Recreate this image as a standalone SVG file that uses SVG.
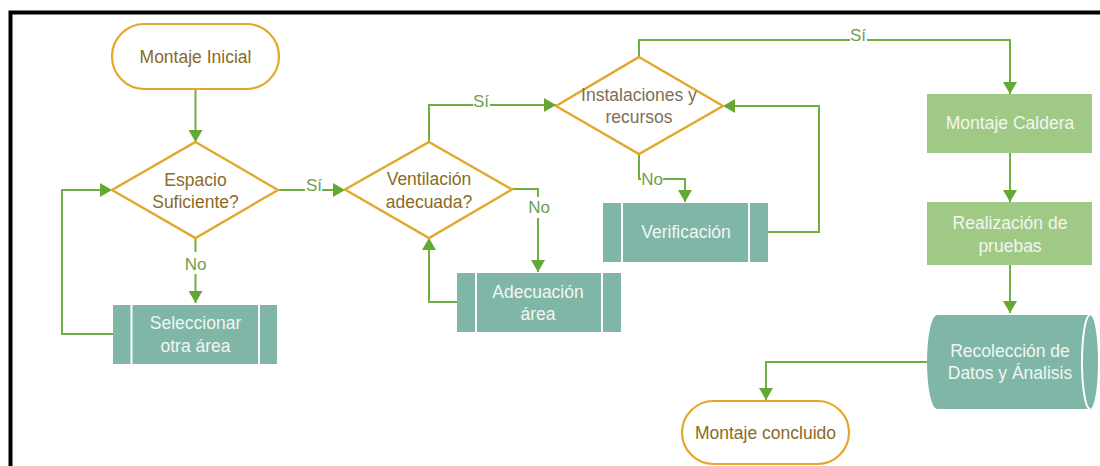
<svg xmlns="http://www.w3.org/2000/svg" width="1100" height="466" viewBox="0 0 1100 466">
  <style>
    .term { fill: #ffffff; stroke: #E2A72B; stroke-width: 2.2; }
    .dec { fill: #ffffff; stroke: #E2A72B; stroke-width: 2.4; }
    .proc { fill: #7FB6A8; }
    .div { stroke: #ffffff; stroke-width: 2; }
    .box { fill: #A1C986; }
    .t { font-family: "Liberation Sans", Arial, sans-serif; font-size: 17.5px; text-anchor: middle; dominant-baseline: central; }
    .dark { fill: #8A6A25; }
    .light { fill: #F2F6F2; }
    .lbl { font-family: "Liberation Sans", Arial, sans-serif; font-size: 17px; text-anchor: middle; dominant-baseline: central; fill: #6E9E52; }
    .conn { fill: none; stroke: #6EB03E; stroke-width: 2; }
    .bg { fill: #ffffff; }
  </style>
  <defs>
    <marker id="arrow" viewBox="0 0 12 14" refX="12" refY="7" markerWidth="12" markerHeight="14" markerUnits="userSpaceOnUse" orient="auto">
      <path d="M0,0 L12,7 L0,14 Z" fill="#62A832"/>
    </marker>
  </defs>

  <rect width="1100" height="466" fill="#ffffff"/>
  <!-- frame -->
  <path d="M10.5,466 V12.5 H1100" fill="none" stroke="#000000" stroke-width="4"/>

  <!-- connectors -->
  <g id="connectors">
    <path class="conn" d="M195.5,89 V142" marker-end="url(#arrow)"/>
    <path class="conn" d="M195.5,238 V303" marker-end="url(#arrow)"/>
    <path class="conn" d="M113,334 H62 V190 H112" marker-end="url(#arrow)"/>
    <path class="conn" d="M278,190 H345" marker-end="url(#arrow)"/>
    <path class="conn" d="M512,189 H538 V272" marker-end="url(#arrow)"/>
    <path class="conn" d="M457,302 H429 V238" marker-end="url(#arrow)"/>
    <path class="conn" d="M429,142 V105 H556" marker-end="url(#arrow)"/>
    <path class="conn" d="M639,154 V179 H685 V202" marker-end="url(#arrow)"/>
    <path class="conn" d="M768,232 H819 V106 H723" marker-end="url(#arrow)"/>
    <path class="conn" d="M639,57 V40 H1010 V94" marker-end="url(#arrow)"/>
    <path class="conn" d="M1010,153 V202" marker-end="url(#arrow)"/>
    <path class="conn" d="M1010,265 V313" marker-end="url(#arrow)"/>
    <path class="conn" d="M928,362 H766 V400" marker-end="url(#arrow)"/>

    <!-- connector labels -->
    <rect class="bg" x="182" y="252" width="27" height="22"/>
    <text class="lbl" x="195.5" y="264">No</text>
    <rect class="bg" x="305" y="178" width="17" height="14"/>
    <text class="lbl" x="314" y="185">Sí</text>
    <rect class="bg" x="473" y="94" width="17" height="14"/>
    <text class="lbl" x="481" y="101">Sí</text>
    <rect class="bg" x="526" y="197" width="26" height="21"/>
    <text class="lbl" x="539" y="207">No</text>
    <rect class="bg" x="641" y="171" width="22" height="17"/>
    <text class="lbl" x="652" y="179">No</text>
    <rect class="bg" x="850" y="29" width="17" height="14"/>
    <text class="lbl" x="858" y="35">Sí</text>
  </g>

  <g id="montaje-inicial">
    <rect class="term" x="112" y="24" width="167" height="65" rx="32.5"/>
    <text class="t dark" x="195.5" y="57">Montaje Inicial</text>
  </g>

  <g id="espacio-suficiente">
    <path class="dec" d="M195.5,142 L278,190 L195.5,238 L112,190 Z"/>
    <text class="t dark" x="195.5" y="180">Espacio</text>
    <text class="t dark" x="195.5" y="202">Suficiente?</text>
  </g>

  <g id="seleccionar-area">
    <rect class="proc" x="113" y="305" width="164" height="59"/>
    <line class="div" x1="131.5" y1="305" x2="131.5" y2="364"/>
    <line class="div" x1="259" y1="305" x2="259" y2="364"/>
    <text class="t light" x="195.5" y="323">Seleccionar</text>
    <text class="t light" x="195.5" y="346">otra área</text>
  </g>

  <g id="ventilacion">
    <path class="dec" d="M429,142 L512,189.5 L429,238 L345,189.5 Z"/>
    <text class="t dark" x="429" y="179">Ventilación</text>
    <text class="t dark" x="429" y="202">adecuada?</text>
  </g>

  <g id="adecuacion-area">
    <rect class="proc" x="457" y="273" width="164" height="59"/>
    <line class="div" x1="476" y1="273" x2="476" y2="332"/>
    <line class="div" x1="602" y1="273" x2="602" y2="332"/>
    <text class="t light" x="538" y="292">Adecuación</text>
    <text class="t light" x="538" y="314">área</text>
  </g>

  <g id="instalaciones">
    <path class="dec" d="M639,57 L723,106 L639,154 L556,106 Z"/>
    <text class="t" x="639" y="95" fill="#7D6E55">Instalaciones y</text>
    <text class="t" x="639" y="117" fill="#7D6E55">recursos</text>
  </g>

  <g id="verificacion">
    <rect class="proc" x="603" y="203" width="165" height="59"/>
    <line class="div" x1="622" y1="203" x2="622" y2="262"/>
    <line class="div" x1="749" y1="203" x2="749" y2="262"/>
    <text class="t light" x="686" y="232">Verificación</text>
  </g>

  <g id="montaje-caldera">
    <rect class="box" x="927" y="94" width="165" height="59"/>
    <text class="t light" x="1010" y="123">Montaje Caldera</text>
  </g>

  <g id="realizacion-pruebas">
    <rect class="box" x="927" y="202" width="165" height="63"/>
    <text class="t light" x="1010" y="223">Realización de</text>
    <text class="t light" x="1010" y="246">pruebas</text>
  </g>

  <g id="recoleccion-datos">
    <path class="proc" d="M937,315 H1090 A8,47 0 0 1 1090,409 H937 A10,47 0 0 1 937,315 Z"/>
    <path d="M1090,315 A8,47 0 0 0 1090,409" fill="none" stroke="#ffffff" stroke-width="2"/>
    <text class="t light" x="1010" y="351">Recolección de</text>
    <text class="t light" x="1010" y="373">Datos y Ánalisis</text>
  </g>

  <g id="montaje-concluido">
    <rect class="term" x="682" y="401" width="167" height="63" rx="31.5"/>
    <text class="t dark" x="765.5" y="433">Montaje concluido</text>
  </g>
</svg>
